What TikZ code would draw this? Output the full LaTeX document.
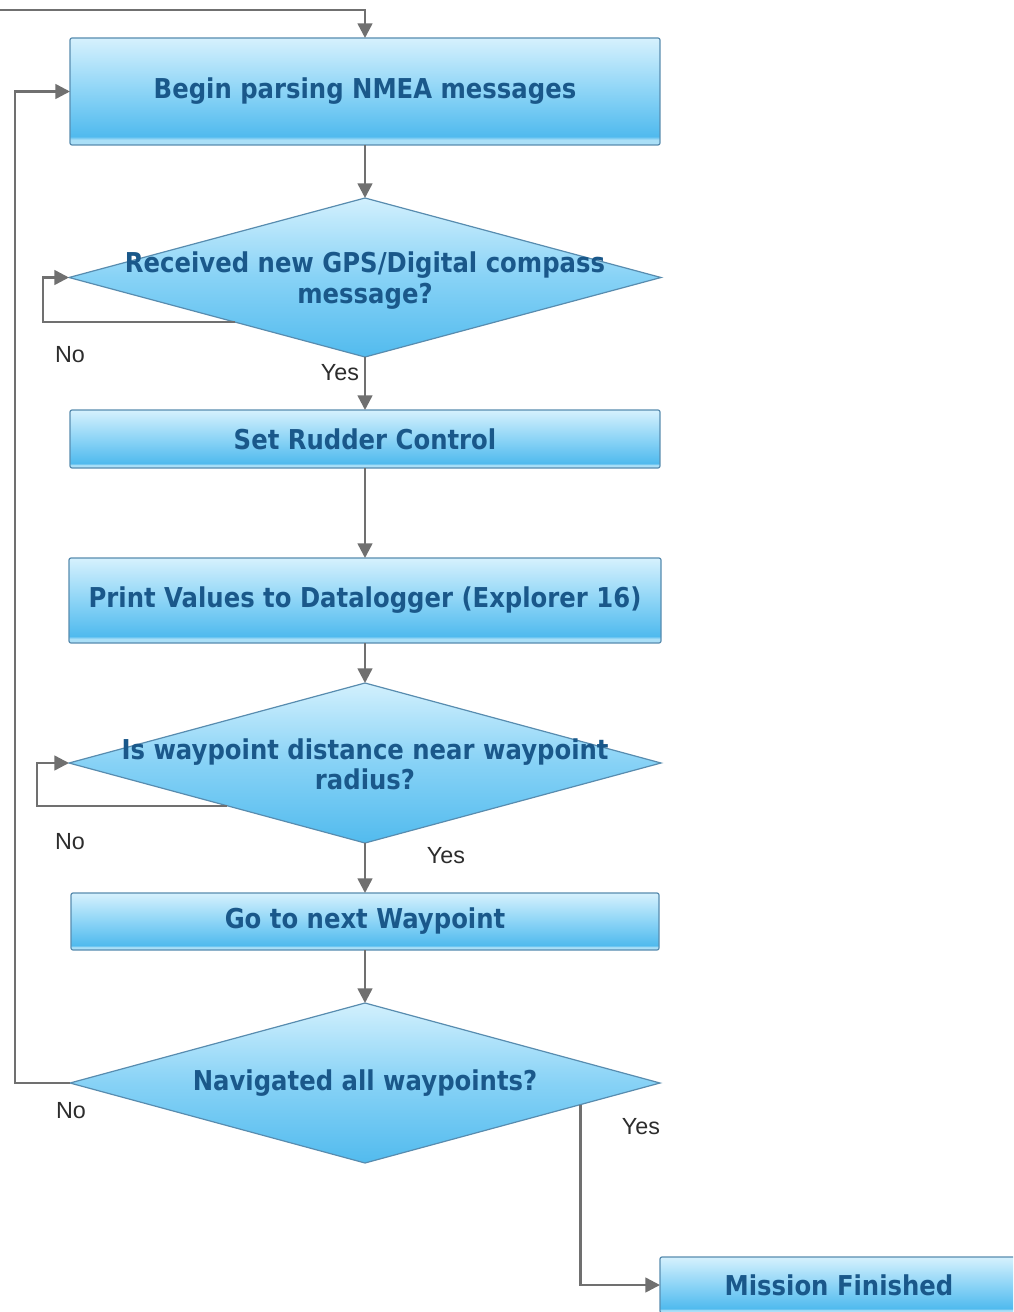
\documentclass[tikz,border=0pt]{standalone}
\usepackage{fontspec}
\setmainfont{Liberation Sans}
\newfontfamily\boxfont{DejaVu Sans}[FakeStretch=0.89]
\usetikzlibrary{shapes.geometric,arrows.meta,calc}
\definecolor{boxtop}{RGB}{214,241,253}
\definecolor{boxmid}{RGB}{140,212,246}
\definecolor{boxbot}{RGB}{80,186,238}
\definecolor{boxband}{RGB}{170,223,247}
\definecolor{diatop}{RGB}{210,240,253}
\definecolor{diamid}{RGB}{135,210,246}
\definecolor{diabot}{RGB}{82,187,238}
\definecolor{edgec}{RGB}{88,140,175}
\definecolor{txtc}{RGB}{26,88,138}
\definecolor{connc}{RGB}{112,112,112}
\definecolor{lblc}{RGB}{45,45,45}
\pgfdeclareverticalshading{boxshade}{100bp}{color(0bp)=(boxband); color(25bp)=(boxband); color(27.5bp)=(boxband); color(29bp)=(boxbot); color(50bp)=(boxmid); color(75bp)=(boxtop); color(100bp)=(boxtop)}
\pgfdeclareverticalshading{diashade}{100bp}{color(0bp)=(diabot); color(25bp)=(diabot); color(50bp)=(diamid); color(75bp)=(diatop); color(100bp)=(diatop)}
\tikzset{
  procbox/.style={rectangle, rounded corners=1.5pt, draw=edgec, line width=0.9pt,
    shading=boxshade, inner sep=0pt, outer sep=0pt,
    font=\boxfont\bfseries\fontsize{20.5}{23}\selectfont, text=txtc, align=center},
  decbox/.style={diamond, draw=edgec, line width=0.9pt, shading=diashade,
    inner sep=0pt, outer sep=0pt},
  dectext/.style={font=\boxfont\bfseries\fontsize{20.5}{23}\selectfont, text=txtc, align=center},
  connline/.style={draw=connc, line width=1.9pt, -{Triangle[length=11pt,width=11pt]}},
  lbl/.style={font=\fontsize{17.5}{20}\selectfont, text=lblc}
}
\begin{document}
\begin{tikzpicture}[x=0.75pt,y=-0.75pt]
\clip (0,0) rectangle (1013,1312);
\fill[white] (0,0) rectangle (1013,1312);

% nodes
\node[procbox, minimum width=442.5pt, minimum height=80.25pt] (b1) at (365,91.5) {Begin parsing NMEA messages};
\node[decbox, minimum width=444pt, minimum height=119.25pt] (d1) at (365,277.5) {};
\node[dectext] (d1t) at ([yshift=-2.5pt]d1.center) {Received new GPS/Digital compass\\message?};
\node[procbox, minimum width=442.5pt, minimum height=43.5pt] (b2) at (365,439) {Set Rudder Control};
\node[procbox, minimum width=444pt, minimum height=63.75pt] (b3) at (365,600.5) {Print Values to Datalogger (Explorer 16)};
\node[decbox, minimum width=444pt, minimum height=120pt] (d2) at (365,763) {};
\node[dectext] (d2t) at ([yshift=-1pt]d2.center) {Is waypoint distance near waypoint\\radius?};
\node[procbox, minimum width=441pt, minimum height=42.75pt] (b4) at (365,921.5) {Go to next Waypoint};
\node[decbox, minimum width=442.5pt, minimum height=120pt] (d3) at (365,1083) {};
\node[dectext] (d3t) at (d3.center) {Navigated all waypoints?};
\node[procbox, minimum width=268.5pt, minimum height=42pt] (b5) at (839,1285) {Mission Finished};

% helper coordinates
\coordinate (start) at (0,10);
\coordinate (k1) at (43,0);
\coordinate (k2) at (37,0);
\coordinate (k3) at (15,0);
\coordinate (p1) at ($(d1.west)!0.56!(d1.south)$);
\coordinate (p2) at ($(d2.west)!0.535!(d2.south)$);
\coordinate (p3) at ($(d3.east)!0.27!(d3.south)$);

% connectors
\draw[connline] (start) -| (b1.north);
\draw[connline] (b1.south) -- (d1.north);
\draw[connline] (p1) -- (p1 -| k1) |- (d1.west);
\draw[connline] (d1.south) -- (b2.north);
\draw[connline] (b2.south) -- (b3.north);
\draw[connline] (b3.south) -- (d2.north);
\draw[connline] (p2) -- (p2 -| k2) |- (d2.west);
\draw[connline] (d2.south) -- (b4.north);
\draw[connline] (b4.south) -- (d3.north);
\draw[connline] (d3.west) -- (d3.west -| k3) |- (b1.west);
\draw[connline] (p3) |- (b5.west);

% labels
\node[lbl] (n1) at (70,355) {No};
\node[lbl] (y1) at (340,373) {Yes};
\node[lbl] (n2) at (70,842) {No};
\node[lbl] (y2) at (446,856) {Yes};
\node[lbl] (n3) at (71,1111) {No};
\node[lbl] (y3) at (641,1127) {Yes};
\end{tikzpicture}
\end{document}
